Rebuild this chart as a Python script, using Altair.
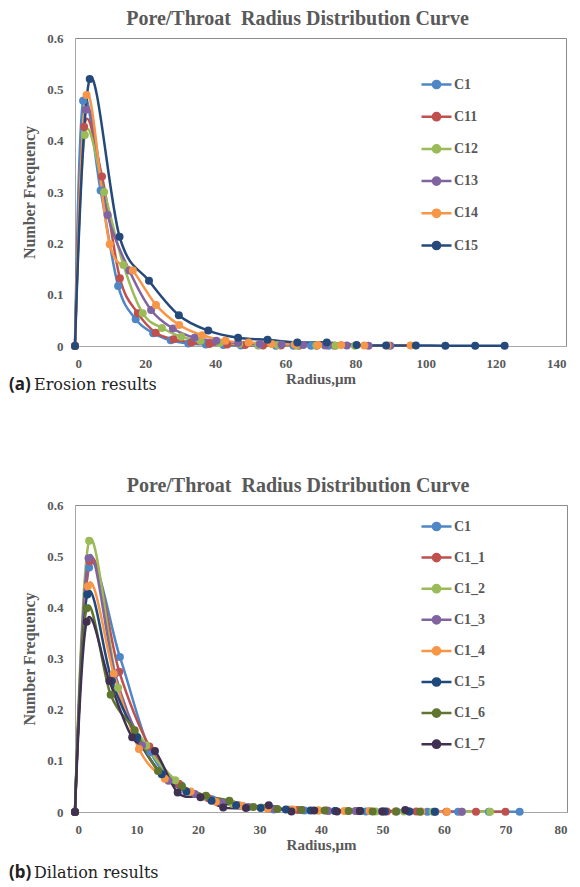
import altair as alt
import pandas as pd

SERIF = "Liberation Serif"
GREY = "#595959"
TITLE = "Pore/Throat\u00a0\u00a0Radius Distribution Curve"

# (a) Erosion results
ERO_NAMES = ["C1", "C11", "C12", "C13", "C14", "C15"]
ERO_COLORS = ["#4F86C6", "#C0504D", "#9BBB59", "#8064A2", "#F79646", "#24497A"]

C1_X = [0, 2.3, 7.3, 12.3, 17.3, 22.3, 27.3, 32.3, 37.3, 42.3, 47.3, 52.3, 57.3, 62.3, 67.3, 72.3]
C1_Y = [0, 0.478, 0.303, 0.117, 0.052, 0.025, 0.011, 0.005, 0.003, 0.002, 0.001, 0.001, 0.0005, 0.0005, 0.0003, 0.0003]
C11_X = [0, 2.6, 7.7, 12.8, 17.9, 23.0, 28.1, 33.2, 38.3, 43.4, 48.5, 53.6, 58.7, 63.8, 68.9, 74.0]
C11_Y = [0, 0.427, 0.330, 0.132, 0.064, 0.026, 0.013, 0.007, 0.004, 0.003, 0.002, 0.001, 0.001, 0.0005, 0.0005, 0.0003]
C12_X = [0, 2.8, 8.3, 13.8, 19.3, 24.8, 30.3, 35.8, 41.3, 46.8, 52.3, 57.8, 63.3, 68.8, 74.3, 79.8]
C12_Y = [0, 0.411, 0.300, 0.158, 0.064, 0.035, 0.018, 0.010, 0.006, 0.004, 0.002, 0.002, 0.001, 0.001, 0.0005, 0.0005]
C13_X = [0, 3.1, 9.3, 15.5, 21.7, 27.9, 34.1, 40.3, 46.5, 52.7, 58.9, 65.1, 71.3, 77.5, 83.7, 89.9]
C13_Y = [0, 0.460, 0.255, 0.147, 0.070, 0.034, 0.016, 0.010, 0.006, 0.004, 0.003, 0.002, 0.001, 0.001, 0.0005, 0.0005]
C14_X = [0, 3.3, 9.9, 16.5, 23.1, 29.7, 36.3, 42.9, 49.5, 56.1, 62.7, 69.3, 75.9, 82.5, 89.1, 95.7]
C14_Y = [0, 0.489, 0.198, 0.147, 0.080, 0.041, 0.021, 0.010, 0.007, 0.004, 0.003, 0.002, 0.002, 0.001, 0.001, 0.001]
C15_X = [0, 4.2, 12.7, 21.1, 29.6, 38.0, 46.5, 54.9, 63.4, 71.8, 80.3, 88.7, 97.2, 105.6, 114.1, 122.5]
C15_Y = [0, 0.520, 0.213, 0.127, 0.060, 0.030, 0.016, 0.012, 0.007, 0.007, 0.002, 0.001, 0.001, 0.0005, 0.0005, 0.0005]

# (b) Dilation results
DIL_NAMES = ["C1", "C1_1", "C1_2", "C1_3", "C1_4", "C1_5", "C1_6", "C1_7"]
DIL_COLORS = ["#4F86C6", "#C0504D", "#9BBB59", "#8064A2", "#F79646", "#1F497D", "#5F7530", "#403152"]

C1_1_X = [0, 2.4, 7.2, 12.1, 16.9, 21.7, 26.6, 31.4, 36.2, 41.0, 45.9, 50.7, 55.5, 60.4, 65.2, 70.0]
C1_1_Y = [0, 0.490, 0.274, 0.128, 0.055, 0.027, 0.013, 0.007, 0.004, 0.003, 0.002, 0.001, 0.001, 0.0005, 0.0005, 0.0003]
C1_2_X = [0, 2.3, 7.0, 11.6, 16.3, 20.9, 25.6, 30.3, 34.9, 39.6, 44.2, 48.9, 53.5, 58.2, 62.9, 67.5]
C1_2_Y = [0, 0.530, 0.243, 0.130, 0.062, 0.030, 0.016, 0.009, 0.005, 0.003, 0.002, 0.001, 0.001, 0.0005, 0.0005, 0.0003]
C1_3_X = [0, 2.2, 6.5, 10.9, 15.2, 19.5, 23.9, 28.2, 32.6, 36.9, 41.2, 45.6, 49.9, 54.3, 58.6, 62.9]
C1_3_Y = [0, 0.496, 0.270, 0.130, 0.061, 0.035, 0.018, 0.010, 0.006, 0.004, 0.002, 0.002, 0.001, 0.001, 0.0005, 0.0005]
C1_4_X = [0, 2.1, 6.3, 10.4, 14.6, 18.8, 22.9, 27.1, 31.3, 35.4, 39.6, 43.8, 47.9, 52.1, 56.3, 60.5]
C1_4_Y = [0, 0.441, 0.270, 0.123, 0.065, 0.040, 0.020, 0.012, 0.007, 0.005, 0.003, 0.002, 0.002, 0.001, 0.001, 0.0005]
C1_5_X = [0, 2.0, 6.0, 10.1, 14.1, 18.1, 22.2, 26.2, 30.2, 34.3, 38.3, 42.3, 46.4, 50.4, 54.4, 58.5]
C1_5_Y = [0, 0.425, 0.256, 0.146, 0.074, 0.040, 0.022, 0.013, 0.008, 0.005, 0.003, 0.002, 0.002, 0.001, 0.001, 0.0005]
C1_6_X = [0, 1.9, 5.8, 9.7, 13.5, 17.4, 21.3, 25.1, 29.0, 32.9, 36.8, 40.6, 44.5, 48.4, 52.2, 56.1]
C1_6_Y = [0, 0.398, 0.229, 0.160, 0.080, 0.050, 0.032, 0.022, 0.010, 0.006, 0.004, 0.003, 0.002, 0.001, 0.001, 0.0005]
C1_7_X = [0, 1.9, 5.6, 9.3, 13.0, 16.7, 20.4, 24.1, 27.8, 31.5, 35.2, 38.9, 42.6, 46.3, 50.0, 53.7]
C1_7_Y = [0, 0.372, 0.256, 0.146, 0.119, 0.038, 0.029, 0.009, 0.008, 0.013, 0.001, 0.003, 0.001, 0.002, 0.001, 0.004]

ERO_X = [C1_X, C11_X, C12_X, C13_X, C14_X, C15_X]
ERO_Y = [C1_Y, C11_Y, C12_Y, C13_Y, C14_Y, C15_Y]
DIL_X = [C1_X, C1_1_X, C1_2_X, C1_3_X, C1_4_X, C1_5_X, C1_6_X, C1_7_X]
DIL_Y = [C1_Y, C1_1_Y, C1_2_Y, C1_3_Y, C1_4_Y, C1_5_Y, C1_6_Y, C1_7_Y]

Y_TICKS = [0, 0.1, 0.2, 0.3, 0.4, 0.5, 0.6]

# legend symbol: short line with a marker on it (concentric rings give a solid dot)
LINE_DOT = (
    "M-1,0L1,0"
    "M0.24,0A0.24,0.24,0,1,1,-0.24,0A0.24,0.24,0,1,1,0.24,0"
    "M0.16,0A0.16,0.16,0,1,1,-0.16,0A0.16,0.16,0,1,1,0.16,0"
    "M0.08,0A0.08,0.08,0,1,1,-0.08,0A0.08,0.08,0,1,1,0.08,0"
)


def panel(names, colors, xs, ys, x_max, x_step, tag, caption, cap_y, legend_y, row_pad, w, h):
    df = pd.DataFrame(
        [
            {"series": n, "radius": a, "freq": b}
            for n, xv, yv in zip(names, xs, ys)
            for a, b in zip(xv, yv)
        ]
    )
    x = alt.X(
        "radius:Q",
        title="Radius,μm",
        scale=alt.Scale(domain=[0, x_max], nice=False),
        axis=alt.Axis(values=list(range(0, x_max + 1, x_step)), labelPadding=11, titlePadding=1),
    )
    y = alt.Y(
        "freq:Q",
        title="Number Frequency",
        scale=alt.Scale(domain=[0, 0.6], nice=False),
        axis=alt.Axis(values=Y_TICKS, format=".1~f", labelPadding=12, titlePadding=9),
    )
    lines = alt.Chart(df).mark_line(interpolate="cardinal", strokeWidth=2.5).encode(
        x=x,
        y=y,
        stroke=alt.Stroke(
            "series:N", sort=names, scale=alt.Scale(domain=names, range=colors),
            legend=alt.Legend(
                orient="none", legendX=345, legendY=legend_y, title=None, padding=0,
                symbolType=LINE_DOT, symbolSize=900, symbolStrokeWidth=2.5,
                rowPadding=row_pad, labelOffset=1,
                labelFont=SERIF, labelFontWeight="bold", labelFontSize=14, labelColor=GREY,
            ),
        ),
    )
    dots = alt.Chart(df).mark_circle(size=64, opacity=1).encode(
        x=x,
        y=y,
        fill=alt.Fill("series:N", sort=names, scale=alt.Scale(domain=names, range=colors), legend=None),
    )
    cap = alt.Chart(pd.DataFrame({"tag": [tag], "text": [caption]}))
    cap_tag = cap.mark_text(
        align="left", baseline="middle", font="Noto Sans", fontWeight="bold", fontSize=17, color="#222222"
    ).encode(text="tag:N", x=alt.value(-66), y=alt.value(cap_y))
    cap_text = cap.mark_text(
        align="left", baseline="middle", font="DejaVu Serif", fontSize=16, color="#222222"
    ).encode(text="text:N", x=alt.value(-41), y=alt.value(cap_y))

    return alt.layer(lines, dots, cap_tag, cap_text).properties(
        width=w,
        height=h,
        title=alt.Title(TITLE, font=SERIF, fontSize=20, fontWeight="bold", color=GREY, dx=-23, offset=3),
    )


top = panel(ERO_NAMES, ERO_COLORS, ERO_X, ERO_Y, 140, 20,
            "(a)", "Erosion results", 347, 30, 6.2, 491, 308)
bottom = panel(DIL_NAMES, DIL_COLORS, DIL_X, DIL_Y, 80, 10,
               "(b)", "Dilation results", 368, 5, 5.1, 492, 307)

chart = (
    alt.vconcat(top, bottom, spacing=81)
    .resolve_scale(stroke="independent", fill="independent")
    .resolve_legend(stroke="independent", fill="independent")
    .properties(padding=0)
    .configure_view(stroke="#8c8c8c", strokeWidth=1)
    .configure_axis(
        grid=False, ticks=False, domainColor="#a6a6a6",
        labelFont=SERIF, labelFontWeight="bold", labelFontSize=13, labelColor=GREY,
        titleFont=SERIF, titleFontWeight="bold", titleFontSize=15, titleColor=GREY,
    )
    .configure_axisY(titleFontSize=16)
)

chart.save("out.html", embed_options={"renderer": "svg", "actions": False})
